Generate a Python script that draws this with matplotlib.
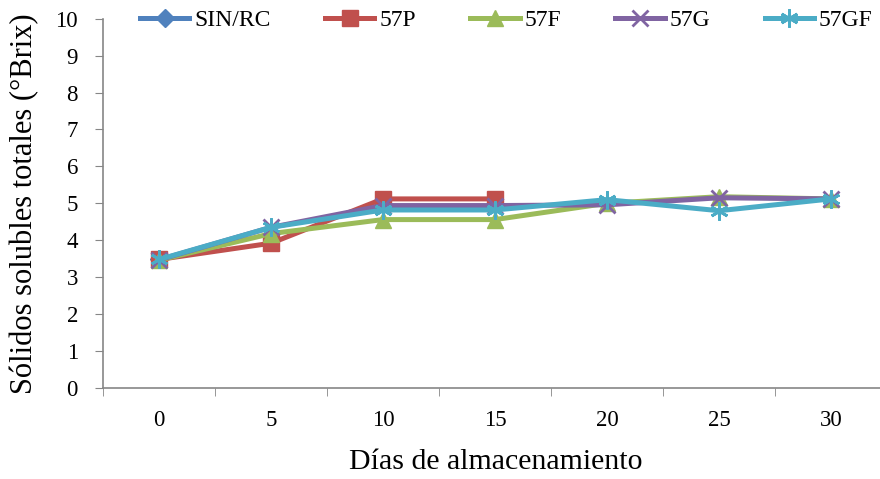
import matplotlib
matplotlib.use("Agg")
import matplotlib.pyplot as plt

# días de almacenamiento (eje de categorías)
dias = ["0", "5", "10", "15", "20", "25", "30"]

# sólidos solubles totales (°Brix) por tratamiento
sin_rc = [3.48]
t57p = [3.48, 3.92, 5.12, 5.12]
t57f = [3.46, 4.18, 4.56, 4.56, 5.0, 5.18, 5.12]
t57g = [3.47, 4.35, 4.94, 4.94, 4.96, 5.15, 5.12]
t57gf = [3.48, 4.35, 4.82, 4.82, 5.1, 4.8, 5.12]

plt.rcParams['font.family'] = ['Liberation Serif', 'DejaVu Serif']

fig = plt.figure(figsize=(8.8, 4.79), dpi=100)
ax = fig.add_axes([0.117, 0.19, 0.891, 0.771])

lw = 3.6
ax.plot(range(len(sin_rc)), sin_rc, color='#4F81BD', lw=lw, marker='D', ms=9, label='SIN/RC')
ax.plot(range(len(t57p)), t57p, color='#C0504D', lw=lw, marker='s', ms=11, label='57P')
ax.plot(range(len(t57f)), t57f, color='#9BBB59', lw=lw, marker='^', ms=12, label='57F')
ax.plot(range(len(t57g)), t57g, color='#8064A2', lw=lw, marker='x', ms=11, mew=2, label='57G')
ax.plot(range(len(t57gf)), t57gf, color='#4BACC6', lw=lw, marker=(6, 2, 0), ms=13, mew=2, label='57GF')

ax.set_xlim(-0.5, len(dias) - 0.5)
ax.set_ylim(0, 10)
ax.set_yticks(range(0, 11))
ax.set_xticks(range(len(dias)))
ax.set_xticklabels(dias)
ax.set_xticks([i - 0.5 for i in range(len(dias) + 1)], minor=True)
ax.tick_params(axis='x', which='major', length=0, pad=16, labelsize=16.5)
ax.tick_params(axis='x', which='minor', length=6, color='#868686')
ax.tick_params(axis='y', length=6, color='#868686', labelsize=16.5, pad=12)

for s in ['top', 'right']:
    ax.spines[s].set_visible(False)
for s in ['left', 'bottom']:
    ax.spines[s].set_color('#868686')
    ax.spines[s].set_linewidth(1.2)

ax.set_xlabel('Días de almacenamiento', fontsize=21.5, va='center')
ax.xaxis.set_label_coords(0.501, -0.2)
ax.set_ylabel('Sólidos solubles totales (°Brix)', fontsize=22, va='center')
ax.yaxis.set_label_coords(-0.0995, 0.5)

ax.legend(loc='center left', bbox_to_anchor=(0.047, 0.996), ncol=5, frameon=False,
          fontsize=17, handlelength=2.1, columnspacing=2.3, handletextpad=0.2,
          borderpad=0, borderaxespad=0)

fig.savefig('out.png', dpi=100)
